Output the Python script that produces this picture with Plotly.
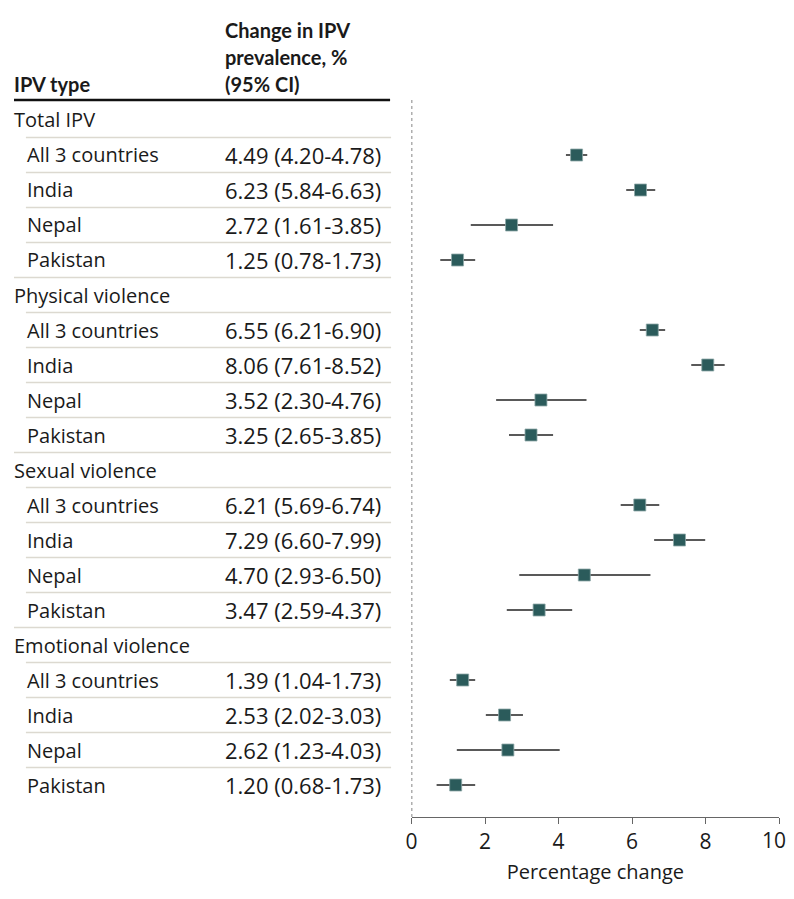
import plotly.graph_objects as go

# Page body has an 8px margin; the figure is sized to fit inside it without
# overflow, and all positions below are given in picture pixels.
PAGE_W, PAGE_H = 794, 899
BODY = 8
W, H = PAGE_W - 2 * BODY, PAGE_H - 2 * BODY

groups = ["Total IPV", "Physical violence", "Sexual violence", "Emotional violence"]
countries = ["All 3 countries", "India", "Nepal", "Pakistan"]
est = [[4.49, 6.23, 2.72, 1.25],
       [6.55, 8.06, 3.52, 3.25],
       [6.21, 7.29, 4.70, 3.47],
       [1.39, 2.53, 2.62, 1.20]]
lo = [[4.20, 5.84, 1.61, 0.78],
      [6.21, 7.61, 2.30, 2.65],
      [5.69, 6.60, 2.93, 2.59],
      [1.04, 2.02, 1.23, 0.68]]
hi = [[4.78, 6.63, 3.85, 1.73],
      [6.90, 8.52, 4.76, 3.85],
      [6.74, 7.99, 6.50, 4.37],
      [1.73, 3.03, 4.03, 1.73]]
x_ticks = [0, 2, 4, 6, 8, 10]
x_tick_labels = ["0", "2", "4", "6", "8", "10"]
x_title = "Percentage change"
hdr_type = "IPV type"
hdr_change = ["Change in IPV", "prevalence, %", "(95% CI)"]

FONT = "Open Sans"
HFONT = "Lato"
TXT = "#1a1a1a"
SEP = "#dcd9d0"
MK = "#2b5b5b"

rows = []
for g, gname in enumerate(groups):
    rows.append((gname, True, None, None, None))
    for c, cname in enumerate(countries):
        rows.append((cname, False, est[g][c], lo[g][c], hi[g][c]))

n = len(rows)
row0_px, step_px = 120.0, 35.0
top_px, axis_px = 100.0, 817.0
y_top = (top_px - row0_px) / step_px
y_bot = (axis_px - row0_px) / step_px
ax_x0, ax_x1 = 408.7, 779.0


def px_x(p, clamp=True):
    v = (p - BODY) / W
    return max(0.0, min(1.0, v)) if clamp else v


def px_y(p):
    return max(0.0, min(1.0, 1 - (p - BODY) / H))


ANN_PAD = 3

ys, xs, em, ep = [], [], [], []
for i, r in enumerate(rows):
    if not r[1]:
        ys.append(i)
        xs.append(r[2])
        em.append(r[2] - r[3])
        ep.append(r[4] - r[2])

fig = go.Figure()
fig.add_trace(go.Scatter(
    x=xs, y=ys, mode="markers",
    marker=dict(symbol="square", size=12, color=MK, line=dict(width=0.8, color="#8fa8a8")),
    error_x=dict(type="data", symmetric=False, array=ep, arrayminus=em,
                 thickness=1.5, width=0, color="#222222"),
    showlegend=False, hoverinfo="skip",
))

ann = []
shapes = []
for i, r in enumerate(rows):
    label, is_h = r[0], r[1]
    ann.append(dict(x=px_x((9 if is_h else 22) - ANN_PAD, False), y=i, xref="paper", yref="y",
                    text=label, showarrow=False, xanchor="left", yanchor="middle",
                    font=dict(family=FONT, size=20, color=TXT)))
    if not is_h:
        ann.append(dict(x=px_x(222 - ANN_PAD, False), y=i, xref="paper", yref="y",
                        text=f"{r[2]:.2f} ({r[3]:.2f}-{r[4]:.2f})", showarrow=False,
                        xanchor="left", yanchor="middle",
                        font=dict(family=FONT, size=22, color=TXT)))
    if i < n - 1:
        nxt_h = rows[i + 1][1]
        shapes.append(dict(type="line", xref="paper", yref="y",
                           x0=px_x(0 if nxt_h else 20), x1=px_x(388),
                           y0=i + 0.5, y1=i + 0.5,
                           line=dict(color=SEP, width=1.3)))

ann.append(dict(x=px_x(9 - ANN_PAD, False), y=px_y(84), xref="paper", yref="paper",
                text=f"<b>{hdr_type}</b>", showarrow=False, xanchor="left", yanchor="middle",
                font=dict(family=HFONT, size=20, color=TXT)))
for k, t in enumerate(hdr_change):
    ann.append(dict(x=px_x(222 - ANN_PAD, False), y=px_y(30 + 27 * k), xref="paper", yref="paper",
                    text=f"<b>{t}</b>", showarrow=False, xanchor="left", yanchor="middle",
                    font=dict(family=HFONT, size=20, color=TXT)))
shapes.append(dict(type="line", xref="paper", yref="paper", x0=0, x1=px_x(387),
                   y0=px_y(100), y1=px_y(100), line=dict(color="#111111", width=2.5)))
shapes.append(dict(type="line", xref="x", yref="y", x0=0, x1=0, y0=y_top, y1=y_bot,
                   line=dict(color="#333333", width=1.2, dash="dot")))

# the last tick label sits at the page edge; draw it as a right-anchored label
tick_text = list(x_tick_labels)
tick_text[-1] = ""
ann.append(dict(x=1 + 2 / W, y=px_y(840), xref="paper", yref="paper", text=x_tick_labels[-1],
                showarrow=False, xanchor="right", yanchor="middle",
                font=dict(family=FONT, size=21, color=TXT)))

fig.update_layout(
    width=W, height=H, margin=dict(l=0, r=0, t=0, b=0),
    paper_bgcolor="white", plot_bgcolor="white",
    annotations=ann, shapes=shapes,
    xaxis=dict(domain=[px_x(ax_x0), px_x(ax_x1)], range=[0, 10], tickvals=x_ticks,
               ticktext=tick_text,
               showgrid=False, zeroline=False, showline=True, linecolor="#666666",
               linewidth=1.3, ticks="outside", ticklen=6, tickcolor="#666666", tickwidth=1.3,
               tickfont=dict(family=FONT, size=21, color=TXT),
               title=dict(text=x_title, font=dict(family=FONT, size=20, color=TXT), standoff=10)),
    yaxis=dict(domain=[px_y(axis_px), px_y(top_px)], range=[y_bot, y_top],
               showgrid=False, zeroline=False, showline=False, showticklabels=False, ticks=""),
)
fig.write_html("out.html")
